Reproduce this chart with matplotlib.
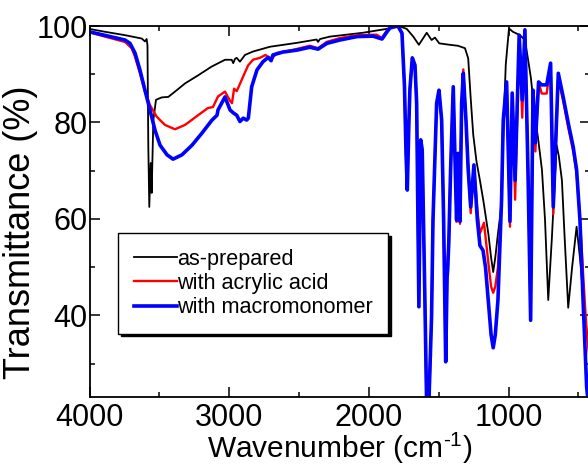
import numpy as np
import matplotlib
matplotlib.use("Agg")
import matplotlib.pyplot as plt
from matplotlib.ticker import MultipleLocator

plt.rcParams['font.family'] = ['Liberation Sans', 'DejaVu Sans']
plt.rcParams['mathtext.fontset'] = 'custom'
plt.rcParams['mathtext.rm'] = 'Liberation Sans'
plt.rcParams['mathtext.it'] = 'Liberation Sans:italic'
plt.rcParams['mathtext.bf'] = 'Liberation Sans:bold'
plt.rcParams['mathtext.default'] = 'regular'

# FTIR spectra (wavenumber in cm-1, transmittance in %)
wn_prepared = [4000, 3889, 3746, 3626, 3603, 3591, 3585, 3579, 3572, 3562, 3555, 3543, 3524,
               3483, 3436, 3388, 3316, 3221, 3125, 3030, 2982, 2971, 2958, 2946, 2923, 2887,
               2830, 2708, 2517, 2374, 2364, 2350, 2279, 2042, 1873, 1800, 1777, 1729, 1682,
               1642, 1586, 1551, 1527, 1496, 1420, 1362, 1312, 1289, 1271, 1253, 1230, 1205,
               1181, 1145, 1125, 1110, 1095, 1076, 1050, 1038, 1020, 997, 969, 918, 883, 860,
               840, 811, 790, 761, 739, 716, 690, 669, 656, 640, 618, 600, 573, 545, 513, 489,
               465, 441, 417]
t_prepared = [99.4, 98.8, 98.1, 97.4, 96.8, 97.3, 96.0, 75.0, 62.5, 71.6, 65.4, 80.5, 84.7,
              85.2, 85.3, 86.4, 88.1, 89.8, 91.6, 93.0, 93.0, 92.3, 93.2, 93.4, 92.6, 94.0,
              94.7, 95.7, 96.5, 97.2, 96.7, 97.3, 97.8, 98.6, 99.4, 99.9, 99.9, 99.4, 97.8,
              96.1, 98.6, 97.1, 97.6, 96.4, 96.1, 95.9, 95.4, 93.3, 85.0, 77.5, 72.0, 68.0,
              63.9, 57.0, 52.0, 49.0, 52.0, 57.0, 63.0, 78.0, 92.0, 99.5, 98.8, 98.1, 97.1,
              93.0, 89.2, 81.1, 77.0, 70.2, 59.8, 43.2, 56.0, 68.0, 75.3, 73.0, 68.0, 57.0,
              41.6, 50.0, 58.4, 52.0, 44.0, 37.0, 33.0]

wn_acrylic = [4000, 3889, 3746, 3698, 3674, 3639, 3603, 3567, 3519, 3460, 3388, 3316, 3223,
              3152, 3116, 3080, 3030, 2994, 2980, 2965, 2946, 2923, 2899, 2865, 2830, 2780,
              2740, 2700, 2660, 2565, 2422, 2364, 2302, 2207, 2087, 1944, 1908, 1873, 1849,
              1792, 1763, 1745, 1734, 1725, 1713, 1706, 1689, 1670, 1658, 1642, 1629, 1618,
              1600, 1581, 1551, 1541, 1515, 1498, 1479, 1465, 1450, 1440, 1436, 1428, 1415,
              1396, 1377, 1372, 1362, 1348, 1336, 1324, 1305, 1289, 1271, 1248, 1224, 1205,
              1176, 1145, 1125, 1110, 1095, 1076, 1050, 1038, 1014, 990, 974, 953, 924, 902,
              883, 861, 842, 825, 808, 785, 763, 727, 699, 680, 644, 609, 573, 537, 513, 489,
              465, 441, 417]
t_acrylic = [98.7, 97.8, 96.7, 95.4, 93.6, 90.2, 86.4, 83.6, 81.2, 79.5, 78.6, 79.5, 81.5,
             83.0, 83.2, 85.4, 86.4, 84.5, 84.0, 87.0, 86.5, 88.0, 89.6, 91.8, 93.0, 93.4,
             94.0, 93.0, 94.4, 94.9, 95.9, 95.4, 96.7, 97.5, 98.1, 98.2, 97.5, 99.0, 99.6,
             100.0, 98.5, 87.4, 73.6, 66.0, 80.5, 87.0, 93.4, 91.9, 84.0, 41.8, 76.4, 74.3,
             45.0, 10.0, 40.0, 59.8, 84.0, 86.7, 80.5, 60.0, 30.4, 48.0, 51.5, 55.0, 70.2,
             87.4, 65.0, 59.4, 73.6, 59.0, 84.0, 91.0, 80.5, 70.2, 61.2, 71.2, 62.0, 57.0,
             59.2, 51.0, 46.0, 44.7, 46.0, 50.0, 64.0, 80.5, 88.4, 58.4, 86.1, 64.0, 98.1, 81.0,
             99.2, 70.0, 39.0, 86.7, 74.0, 88.4, 86.0, 86.0, 92.3, 61.0, 89.0, 84.5, 79.0,
             74.0, 69.5, 60.0, 48.0, 36.4, 30.0]

wn_macro = [4000, 3746, 3710, 3674, 3639, 3603, 3567, 3531, 3495, 3445, 3402, 3338, 3266,
            3195, 3123, 3087, 3080, 3030, 2994, 2971, 2946, 2923, 2899, 2875, 2863, 2839,
            2801, 2758, 2720, 2700, 2687, 2615, 2515, 2422, 2364, 2300, 2207, 2085, 1971,
            1906, 1870, 1849, 1792, 1763, 1745, 1734, 1725, 1713, 1706, 1689, 1670, 1658,
            1642, 1629, 1618, 1600, 1581, 1551, 1541, 1515, 1498, 1479, 1465, 1450, 1440,
            1436, 1428, 1415, 1396, 1377, 1372, 1362, 1348, 1336, 1324, 1305, 1289, 1271,
            1248, 1224, 1205, 1183, 1165, 1145, 1125, 1110, 1095, 1076, 1050, 1038, 1014,
            990, 974, 953, 924, 902, 883, 861, 842, 825, 808, 785, 763, 727, 699, 680, 644,
            609, 573, 537, 513, 489, 465, 441, 417]
t_macro = [98.8, 97.1, 96.4, 94.4, 90.9, 86.7, 82.6, 78.4, 75.3, 73.3, 72.4, 73.3, 75.3,
           77.8, 80.5, 81.5, 82.6, 85.3, 82.6, 82.0, 81.5, 80.2, 80.9, 80.5, 80.9, 87.4,
           90.9, 92.6, 93.5, 92.8, 94.0, 94.6, 95.0, 95.6, 95.2, 96.4, 97.1, 97.8, 97.9,
           97.3, 98.8, 99.6, 100.0, 98.5, 87.4, 73.6, 66.0, 80.5, 87.0, 93.4, 91.9, 84.0,
           41.8, 76.4, 74.3, 45.0, 12.0, 40.0, 59.8, 84.0, 86.7, 80.5, 60.0, 30.4, 48.0,
           49.4, 55.0, 70.2, 87.4, 65.0, 59.8, 73.6, 59.5, 84.0, 90.2, 80.5, 70.2, 62.5,
           71.2, 60.0, 54.5, 53.5, 50.0, 43.0, 36.0, 33.3, 36.0, 43.2, 64.0, 80.5, 88.4,
           59.5, 86.1, 68.0, 98.1, 84.7, 99.2, 70.0, 39.0, 86.7, 75.8, 88.4, 87.8, 87.8,
           92.3, 62.5, 90.2, 85.3, 79.9, 74.9, 70.2, 59.8, 42.0, 25.2, 18.0]

series = [
    ("as-prepared", wn_prepared, t_prepared, "#000000", 1.3),
    ("with acrylic acid", wn_acrylic, t_acrylic, "#ff0000", 1.7),
    ("with macromonomer", wn_macro, t_macro, "#0000ff", 2.6),
]

fig = plt.figure(figsize=(5.88, 4.68), dpi=100)
ax = fig.add_axes([89.5 / 588, 71 / 468, 500.5 / 588, 371 / 468])

for label, wn, t, color, lw in series:
    ax.plot(wn, t, color=color, lw=lw, label=label)

ax.set_xlim(4000, 417)
ax.set_ylim(23.1, 100)
ax.xaxis.set_major_locator(MultipleLocator(1000))
ax.xaxis.set_minor_locator(MultipleLocator(500))
ax.yaxis.set_major_locator(MultipleLocator(20))
ax.yaxis.set_minor_locator(MultipleLocator(10))
ax.tick_params(which='both', direction='in', top=True, right=True, labelsize=22, width=1.1)
ax.tick_params(which='major', length=7)
ax.tick_params(which='minor', length=3.6)
ax.tick_params(axis='x', which='major', pad=4)
ax.tick_params(axis='y', which='major', pad=1.5)
for sp in ax.spines.values():
    sp.set_linewidth(1.3)

ax.set_xlabel(r"Wavenumber (cm$^{\text{-}1}$)", fontsize=21.5, labelpad=-1)
ax.set_ylabel("Transmittance (%)", fontsize=26)
ax.yaxis.set_label_coords(-0.103, 0.445)

leg = ax.legend(loc='upper left', bbox_to_anchor=(0.057, 0.442), borderaxespad=0,
                fontsize=15.6, frameon=True, fancybox=False, framealpha=1,
                edgecolor='black', shadow={'color': 'black', 'alpha': 1},
                handlelength=2.0, handletextpad=0.0, labelspacing=0.15,
                borderpad=0.72)
leg.get_frame().set_linewidth(1.0)

fig.savefig("out.png", dpi=100)
